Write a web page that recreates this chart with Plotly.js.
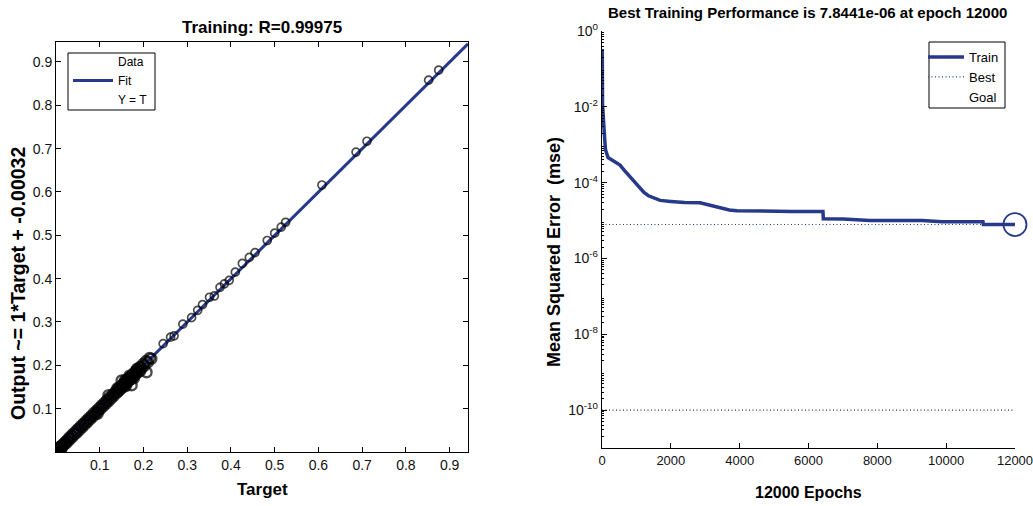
<!DOCTYPE html>
<html>
<head>
<meta charset="utf-8">
<script src="https://cdn.plot.ly/plotly-3.0.1.min.js"></script>
<style>
  html, body { margin: 0; padding: 0; background: #fff; }
  #chart { width: 1033px; height: 506px; }
</style>
</head>
<body>
<div id="chart"></div>
<script>
// Regression of network output against target (training set)
const targets = [
  0.001,0.002,0.003,0.004,0.005,0.006,0.007,0.008,0.009,0.010,0.011,0.012,0.013,0.015,0.017,0.019,0.021,0.023,0.025,
  0.028,0.030,0.033,0.035,0.038,0.040,0.043,0.046,0.048,0.051,0.054,0.057,0.060,0.063,0.066,0.069,0.072,0.075,
  0.078,0.081,0.084,0.087,0.090,0.093,0.096,0.099,0.102,0.105,0.108,0.111,0.114,0.117,0.120,0.123,0.126,0.129,
  0.132,0.135,0.138,0.141,0.143,0.146,0.148,0.150,0.152,0.154,0.156,0.158,0.160,0.162,0.164,0.166,0.168,0.170,
  0.172,0.174,0.176,0.178,0.180,0.182,0.184,0.187,0.190,0.193,0.196,0.199,0.202,0.206,0.210,0.214,0.218,
  0.150,0.173,0.207,0.120,0.095,0.160,0.140,0.185,0.168,0.178,0.158,0.192,0.004,0.008,0.012,
  0.245,0.262,0.270,0.290,0.310,0.324,0.335,0.351,0.362,0.375,0.385,0.396,0.410,0.426,0.442,0.455,0.483,0.500,
  0.515,0.525,0.608,0.686,0.711,0.852,0.875
];
const outputs = [
  0.002,0.004,0.001,0.006,0.003,0.008,0.005,0.007,0.011,0.009,0.013,0.010,0.015,0.013,0.019,0.017,0.023,0.020,0.027,
  0.025,0.033,0.031,0.038,0.035,0.043,0.041,0.049,0.045,0.054,0.051,0.060,0.057,0.066,0.063,0.072,0.069,0.078,
  0.075,0.084,0.081,0.090,0.087,0.096,0.093,0.102,0.099,0.108,0.105,0.114,0.111,0.120,0.117,0.126,0.123,0.132,
  0.129,0.138,0.135,0.145,0.140,0.150,0.145,0.154,0.149,0.158,0.153,0.162,0.157,0.166,0.161,0.170,0.165,0.174,
  0.169,0.178,0.173,0.182,0.177,0.186,0.181,0.191,0.187,0.197,0.193,0.203,0.199,0.210,0.207,0.217,0.215,
  0.165,0.154,0.184,0.131,0.088,0.152,0.147,0.192,0.176,0.170,0.166,0.186,0.000,0.002,0.006,
  0.250,0.265,0.268,0.295,0.310,0.327,0.340,0.357,0.360,0.380,0.388,0.396,0.415,0.435,0.449,0.460,0.488,0.505,
  0.519,0.530,0.616,0.692,0.717,0.858,0.881
];
const fitSlope = 1;
const fitIntercept = -0.00032;
const fitRange = [0, 0.942];
const regTicks = [0.1, 0.2, 0.3, 0.4, 0.5, 0.6, 0.7, 0.8, 0.9];

// Training performance (mean squared error per epoch)
const epochs = [0, 8, 15, 30, 60, 100, 136, 175, 300, 400, 523, 650, 813, 950, 1100, 1220, 1350, 1500, 1690, 2000,
  2400, 2850, 3100, 3430, 3700, 3920, 4680, 5500, 6420, 6430, 7000, 7790, 8500, 9300, 9880, 10500, 11070,
  11080, 12000];
const trainMse = [0.3, 0.3, 0.012, 6e-3, 2.5e-3, 7.5e-4, 6.2e-4, 4.6e-4, 3.9e-4, 3.4e-4, 2.9e-4, 2.1e-4, 1.45e-4, 1.0e-4,
  7.4e-5, 5.5e-5, 4.5e-5, 4.0e-5, 3.4e-5, 3.2e-5, 3.0e-5, 2.95e-5, 2.6e-5, 2.1e-5, 1.9e-5, 1.82e-5, 1.76e-5,
  1.74e-5, 1.74e-5, 1.12e-5, 1.1e-5, 1.0e-5, 1.0e-5, 1.0e-5, 9.3e-6, 9.3e-6, 9.3e-6, 7.8441e-6, 7.8441e-6];
const bestEpoch = 12000;
const bestMse = 7.8441e-6;
const goalMse = 1e-10;
const epochTicks = [0, 2000, 4000, 6000, 8000, 10000, 12000];
const epochTickText = ['0', '2000', '4000', '6000', '8000', '10000', '12000'];
const mseTicks = [1, 1e-2, 1e-4, 1e-6, 1e-8, 1e-10];
const mseTickText = ['10<sup>0</sup>', '10<sup>-2</sup>', '10<sup>-4</sup>', '10<sup>-6</sup>', '10<sup>-8</sup>', '10<sup>-10</sup>'];

const FONT = 'Liberation Sans, Arial, sans-serif';
const NAVY = '#27398a';

const fitY = fitRange.map(t => fitSlope * t + fitIntercept);
// the crowded low-target cluster is drawn with heavier outlines
const dataLineWidth = targets.map(t => (t < 0.23 ? 2.4 : 1.7));
const dataSize = targets.map(t => (t < 0.23 ? 10 : 8));

// intermediate log ticks (2..9 per decade) on the MSE axis
const mseMinor = [];
for (let d = -11; d < 0; d++) {
  for (let m = 2; m <= 9; m++) mseMinor.push(m * Math.pow(10, d));
}

const traces = [
  // legend-only label for the data points
  { x: [null], y: [null], type: 'scatter', mode: 'markers', name: 'Data',
    marker: { color: 'rgba(0,0,0,0)', size: 1 }, xaxis: 'x', yaxis: 'y', legend: 'legend' },
  { x: fitRange, y: fitY, type: 'scatter', mode: 'lines', name: 'Fit',
    line: { color: NAVY, width: 3 }, xaxis: 'x', yaxis: 'y', legend: 'legend' },
  { x: fitRange, y: fitRange, type: 'scatter', mode: 'lines', name: 'Y = T',
    line: { color: 'rgba(0,0,0,0)', width: 1, dash: 'dot' }, xaxis: 'x', yaxis: 'y', legend: 'legend' },
  { x: targets, y: outputs, type: 'scatter', mode: 'markers', showlegend: false,
    marker: { symbol: 'circle-open', size: dataSize, color: '#000', line: { width: dataLineWidth, color: '#000' } },
    xaxis: 'x', yaxis: 'y' },

  { x: epochs, y: trainMse, type: 'scatter', mode: 'lines', name: 'Train',
    line: { color: NAVY, width: 3.5 }, xaxis: 'x2', yaxis: 'y2', legend: 'legend2' },
  { x: [0, bestEpoch], y: [bestMse, bestMse], type: 'scatter', mode: 'lines', name: 'Best',
    line: { color: '#2e3a78', width: 1.1, dash: '1px,2.5px' }, xaxis: 'x2', yaxis: 'y2', legend: 'legend2' },
  { x: [0, bestEpoch], y: [goalMse, goalMse], type: 'scatter', mode: 'lines', showlegend: false,
    line: { color: '#333', width: 1.1, dash: '1px,2.5px' }, xaxis: 'x2', yaxis: 'y2' },
  { x: [null], y: [null], type: 'scatter', mode: 'markers', name: 'Goal',
    marker: { color: 'rgba(0,0,0,0)', size: 1 }, xaxis: 'x2', yaxis: 'y2', legend: 'legend2' },
  { x: [bestEpoch], y: [bestMse], type: 'scatter', mode: 'markers', showlegend: false, cliponaxis: false,
    marker: { symbol: 'circle-open', size: 23, color: NAVY, line: { width: 1.8, color: NAVY } },
    xaxis: 'x2', yaxis: 'y2' }
];

const tickFont = { family: FONT, size: 14, color: '#111' };
const bold = (size) => ({ family: FONT, size: size, color: '#000', weight: 'bold' });

const layout = {
  width: 1033, height: 506,
  margin: { l: 0, r: 0, t: 0, b: 0 },
  paper_bgcolor: '#fff', plot_bgcolor: '#fff',
  font: { family: FONT, color: '#000' },
  xaxis: {
    domain: [56 / 1033, 468 / 1033], anchor: 'y', range: [0, 0.942],
    tickmode: 'array', tickvals: regTicks, ticks: 'inside', ticklen: 5, tickcolor: '#000',
    showline: true, linecolor: '#000', linewidth: 1, mirror: 'ticks', showgrid: false, zeroline: false,
    tickfont: tickFont
  },
  yaxis: {
    domain: [(506 - 452) / 506, (506 - 42) / 506], anchor: 'x', range: [0, 0.946],
    tickmode: 'array', tickvals: regTicks, ticks: 'inside', ticklen: 5, tickcolor: '#000',
    showline: true, linecolor: '#000', linewidth: 1, mirror: 'ticks', showgrid: false, zeroline: false,
    tickfont: tickFont
  },
  xaxis2: {
    domain: [602 / 1033, 1015 / 1033], anchor: 'y2', range: [0, 12000],
    tickmode: 'array', tickvals: epochTicks, ticktext: epochTickText, ticks: 'inside', ticklen: 5, tickcolor: '#000',
    ticklabeloverflow: 'allow',
    showline: true, linecolor: '#000', linewidth: 1.2, showgrid: false, zeroline: false,
    tickfont: { family: FONT, size: 13, color: '#111' }
  },
  yaxis2: {
    domain: [(506 - 448) / 506, (506 - 31) / 506], anchor: 'x2', type: 'log', range: [-11, 0],
    tickmode: 'array', tickvals: mseTicks, ticktext: mseTickText, ticks: 'inside', ticklen: 5, tickcolor: '#000',
    minor: { tickmode: 'array', tickvals: mseMinor, ticks: 'inside', ticklen: 2, tickcolor: '#000' },
    showline: true, linecolor: '#000', linewidth: 1.2, showgrid: false, zeroline: false,
    tickfont: tickFont
  },
  legend: {
    x: 68 / 1033, y: (506 - 47) / 506, xanchor: 'left', yanchor: 'top',
    bgcolor: 'rgba(0,0,0,0)', borderwidth: 0,
    font: { family: FONT, size: 12, color: '#000' }, itemwidth: 40, tracegroupgap: 0
  },
  legend2: {
    x: 923 / 1033, y: (506 - 42) / 506, xanchor: 'left', yanchor: 'top',
    bgcolor: 'rgba(0,0,0,0)', borderwidth: 0,
    font: { family: FONT, size: 13, color: '#000' }, itemwidth: 36, tracegroupgap: 0
  },
  shapes: [
    { type: 'rect', xref: 'paper', yref: 'paper', x0: 68 / 1033, x1: 155 / 1033,
      y0: (506 - 110) / 506, y1: (506 - 53) / 506, line: { color: '#000', width: 1 }, fillcolor: '#fff', layer: 'below' },
    { type: 'rect', xref: 'paper', yref: 'paper', x0: 929 / 1033, x1: 1005 / 1033,
      y0: (506 - 108) / 506, y1: (506 - 42) / 506, line: { color: '#000', width: 1 }, fillcolor: '#fff', layer: 'below' }
  ],
  annotations: [
    { text: 'Training: R=0.99975', xref: 'paper', yref: 'paper', x: 262 / 1033, y: (506 - 27) / 506,
      xanchor: 'center', yanchor: 'middle', showarrow: false, font: bold(17) },
    { text: 'Best Training Performance is 7.8441e-06 at epoch 12000', xref: 'paper', yref: 'paper',
      x: 807 / 1033, y: (506 - 13) / 506, xanchor: 'center', yanchor: 'middle', showarrow: false, font: bold(15) },
    { text: 'Target', xref: 'paper', yref: 'paper', x: 262 / 1033, y: (506 - 489) / 506,
      xanchor: 'center', yanchor: 'middle', showarrow: false, font: bold(17) },
    { text: 'Output ~= 1*Target + -0.00032', xref: 'paper', yref: 'paper', x: 18 / 1033, y: (506 - 284) / 506,
      xanchor: 'center', yanchor: 'middle', showarrow: false, textangle: -90, font: bold(19.5) },
    { text: '12000 Epochs', xref: 'paper', yref: 'paper', x: 808 / 1033, y: (506 - 492) / 506,
      xanchor: 'center', yanchor: 'middle', showarrow: false, font: bold(16) },
    { text: 'Mean Squared Error  (mse)', xref: 'paper', yref: 'paper', x: 554 / 1033, y: (506 - 252) / 506,
      xanchor: 'center', yanchor: 'middle', showarrow: false, textangle: -90, font: bold(18) }
  ],
  showlegend: true
};

Plotly.newPlot('chart', traces, layout, { staticPlot: true, displayModeBar: false });
</script>
</body>
</html>
